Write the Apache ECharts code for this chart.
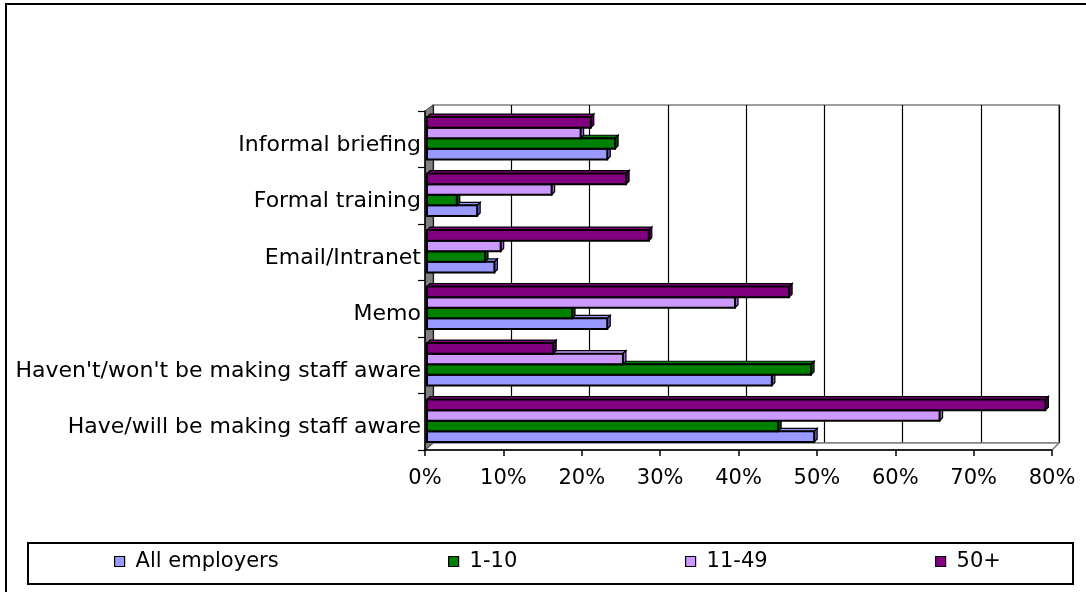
<!DOCTYPE html>
<html lang="en">
<head>
  <meta charset="UTF-8">
  <title>Making staff aware</title>
  <style type="text/css">
    * {
      margin: 0;
      padding: 0;
    }
    html, body {
      width: 100%;
      height: 100%;
      overflow: hidden;
      background: #fff;
    }
    #main {
      width: 1086px;
      height: 592px;
    }
  </style>
  <script type="text/javascript" src="https://cdn.jsdelivr.net/npm/echarts@6/dist/echarts.min.js"></script>
</head>
<body>
<div id="main"></div>
<script type="text/javascript">
  // bottom to top, as on the chart
  var categories = ['Have/will be making staff aware', "Haven't/won't be making staff aware", 'Memo', 'Email/Intranet', 'Formal training', 'Informal briefing'];
  var seriesNames = ['All employers', '1-10', '11-49', '50+'];
  var allEmployers = [49.4, 44, 23, 8.6, 6.4, 23];
  var size1to10 = [44.8, 49, 18.5, 7.4, 3.8, 24];
  var size11to49 = [65.4, 25, 39.3, 9.4, 15.9, 19.6];
  var size50plus = [78.9, 16.1, 46.2, 28.3, 25.4, 20.9];
  var xTicks = [0, 10, 20, 30, 40, 50, 60, 70, 80];

  var colors = ['#9999FF', '#008000', '#CC99FF', '#800080'];
  var sideColors = ['#6666CC', '#005000', '#9966CC', '#500050'];
  var font = 'DejaVu Sans';

  // front and back planes of the 3d box
  var front = {left: 425, top: 111, right: 34, bottom: 142};
  var back = {left: 433, top: 105, right: 27, bottom: 149};
  var W = 1086, H = 592;
  var FL = front.left, FT = front.top, FR = W - front.right, FB = H - front.bottom;
  var BL = back.left, BT = back.top, BR = W - back.right, BB = H - back.bottom;
  var labelDrop = 6; // category labels sit a bit below the band centre

  function bar3d(idx) {
    return function (params, api) {
      var cat = api.value(1);
      var val = api.value(0);
      var start = api.coord([0, cat]);
      var end = api.coord([val, cat]);
      var band = api.size([0, 1])[1];
      var h = band * 0.75 / 4;
      var y = start[1] + band * 0.75 / 2 - (idx + 1) * h - 1;
      var x0 = start[0] + 2, x1 = end[0] + 2;
      var d = 3;
      var c = colors[idx];
      return {
        type: 'group',
        children: [
          {type: 'polygon', shape: {points: [[x0, y], [x0 + d, y - d], [x1 + d, y - d], [x1, y]]},
            style: {fill: c, stroke: '#000', lineWidth: 1.2}},
          {type: 'polygon', shape: {points: [[x1, y], [x1 + d, y - d], [x1 + d, y + h - d], [x1, y + h]]},
            style: {fill: sideColors[idx], stroke: '#000', lineWidth: 1.2}},
          {type: 'rect', shape: {x: x0, y: y, width: x1 - x0, height: h},
            style: {fill: c, stroke: '#000', lineWidth: 2}}
        ]
      };
    };
  }

  function toData(arr) {
    var out = [];
    for (var i = 0; i < arr.length; i++) {
      out.push([arr[i], i]);
    }
    return out;
  }

  var values = [allEmployers, size1to10, size11to49, size50plus];
  var series = [];
  for (var s = 0; s < values.length; s++) {
    series.push({
      name: seriesNames[s],
      type: 'custom',
      xAxisIndex: 0,
      yAxisIndex: 0,
      renderItem: bar3d(s),
      encode: {x: 0, y: 1},
      itemStyle: {color: colors[s], borderColor: '#000', borderWidth: 1},
      data: toData(values[s]),
      z: 3
    });
  }

  var legendLeft = [114, 448, 685, 935];
  var legends = [];
  for (var k = 0; k < seriesNames.length; k++) {
    legends.push({
      data: [seriesNames[k]],
      left: legendLeft[k],
      top: 551,
      padding: 0,
      icon: 'rect',
      itemWidth: 10,
      itemHeight: 10,
      selectedMode: false,
      itemStyle: {borderColor: '#000', borderWidth: 1.2},
      textStyle: {fontFamily: font, fontSize: 21, color: '#000', padding: [0, 0, 0, 6]}
    });
  }

  var myChart = echarts.init(document.getElementById('main'));
  var option = {
    animation: false,
    backgroundColor: '#fff',
    textStyle: {fontFamily: font},
    grid: [
      {left: front.left, top: front.top, right: front.right, bottom: front.bottom, outerBoundsMode: 'none'},
      {left: back.left, top: back.top, right: back.right, bottom: back.bottom, outerBoundsMode: 'none',
        show: true, backgroundColor: '#fff', borderColor: '#808080', borderWidth: 1.5},
      // only carries the category labels
      {left: front.left, top: front.top + labelDrop, right: front.right, bottom: front.bottom - labelDrop, outerBoundsMode: 'none'}
    ],
    xAxis: [
      {
        type: 'value', gridIndex: 0, min: xTicks[0], max: xTicks[xTicks.length - 1], interval: 10, z: 5,
        axisLine: {show: true, lineStyle: {color: '#000', width: 1.5}},
        axisTick: {show: true, length: 6, lineStyle: {color: '#000', width: 1.5}},
        axisLabel: {formatter: '{value}%', fontSize: 21, color: '#000', margin: 18, fontFamily: font},
        splitLine: {show: false}
      },
      {
        type: 'value', gridIndex: 1, min: xTicks[0], max: xTicks[xTicks.length - 1], interval: 10,
        axisLine: {show: false}, axisTick: {show: false}, axisLabel: {show: false},
        splitLine: {show: true, lineStyle: {color: '#000', width: 1.2}}
      },
      {type: 'value', gridIndex: 2, min: 0, max: 80, show: false}
    ],
    yAxis: [
      {
        type: 'category', gridIndex: 0, data: categories, z: 5,
        axisLine: {show: true, lineStyle: {color: '#000', width: 1.5}},
        axisTick: {show: true, length: 7, lineStyle: {color: '#000', width: 1.2}},
        axisLabel: {show: false}
      },
      {type: 'category', gridIndex: 1, data: categories, show: false},
      {
        type: 'category', gridIndex: 2, data: categories, z: 6,
        axisLine: {show: false}, axisTick: {show: false}, splitLine: {show: false},
        axisLabel: {fontSize: 22, color: '#000', margin: 4, fontFamily: font}
      }
    ],
    legend: legends,
    graphic: [
      // outer chart border (only top and left fall inside the picture)
      {type: 'rect', shape: {x: 6, y: 4, width: 1200, height: 700}, style: {fill: 'none', stroke: '#000', lineWidth: 2}, z: 10},
      // legend box
      {type: 'rect', shape: {x: 28, y: 543, width: 1045, height: 41}, style: {fill: '#fff', stroke: '#000', lineWidth: 2}, z: 1},
      // floor
      {type: 'polygon', shape: {points: [[FL, FB], [BL, BB], [BR, BB], [FR, FB]]}, style: {fill: '#fff', stroke: '#808080', lineWidth: 1.5}, z: 1},
      // left wall
      {type: 'polygon', shape: {points: [[FL, FT], [BL, BT], [BL, BB], [FL, FB]]}, style: {fill: '#808080', stroke: '#404040', lineWidth: 1}, z: 1}
    ],
    series: series
  };
  myChart.setOption(option);
</script>
</body>
</html>
